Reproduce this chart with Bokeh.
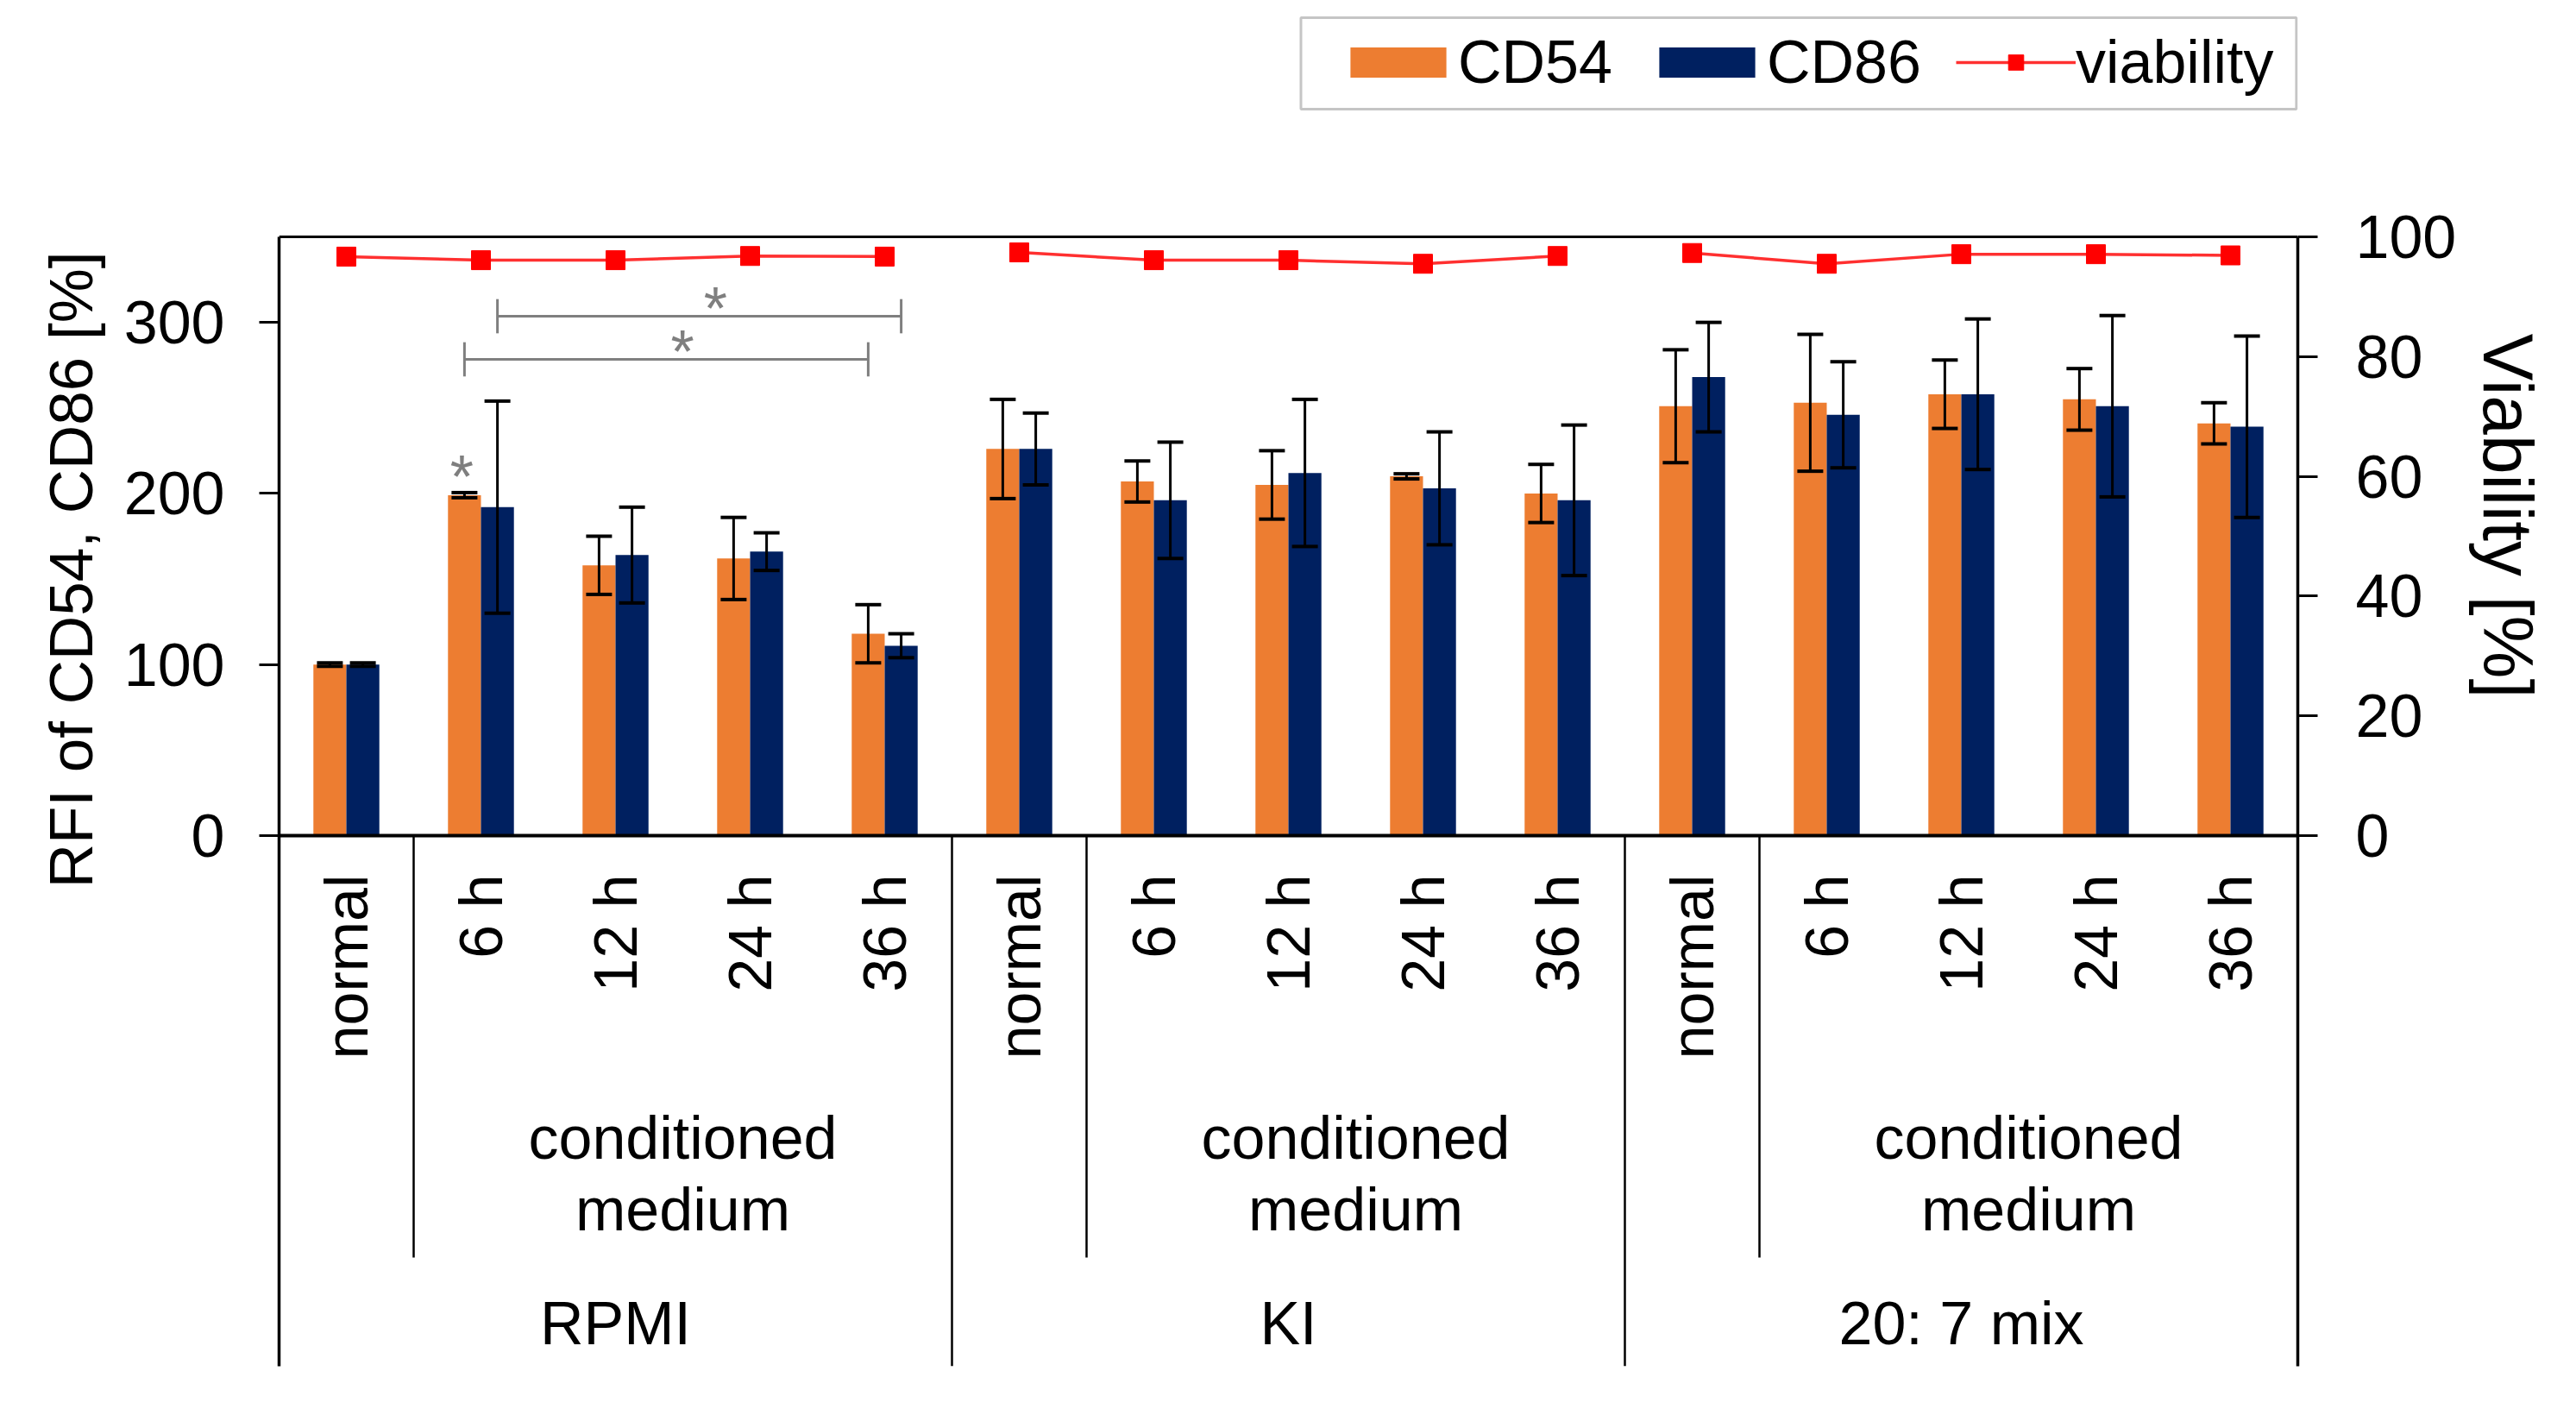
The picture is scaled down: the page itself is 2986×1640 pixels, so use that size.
import math
from bokeh.plotting import figure
from bokeh.layouts import row
from bokeh.models import (Range1d, LinearAxis, FixedTicker, ColumnDataSource, Whisker, TeeHead,
                          Span, Legend, LegendItem, BoxAnnotation)
from bokeh.core.properties import value
from bokeh.embed import file_html
from bokeh.resources import INLINE

# ---------------- data ----------------
GROUPS = ["RPMI", "KI", "20: 7 mix"]
CONDITIONS = ["normal", "6 h", "12 h", "24 h", "36 h"]
SUBGROUP_LABEL = "conditioned medium"

CD54 = [100, 199, 158, 162, 118, 226, 207, 205, 210, 200, 251, 253, 258, 255, 241]
CD54_ERR = [1, 1.5, 17, 24, 17, 29, 12, 20, 1.5, 17, 33, 40, 20, 18, 12]
CD86 = [100, 192, 164, 166, 111, 226, 196, 212, 203, 196, 268, 246, 258, 251, 239]
CD86_ERR = [1, 62, 28, 11, 7, 21, 34, 43, 33, 44, 32, 31, 44, 53, 53]
VIABILITY = [96.7, 96.1, 96.1, 96.8, 96.7, 97.4, 96.1, 96.1, 95.5, 96.8, 97.3, 95.5, 97.1, 97.1, 96.9]

LEFT_TICKS = [0, 100, 200, 300]
RIGHT_TICKS = [0, 20, 40, 60, 80, 100]
LEFT_TITLE = "RFI of CD54, CD86 [%]"
RIGHT_TITLE = "Viability [%]"

# significance brackets: (series, from index, to index, level)
BRACKETS = [("CD86", 1, 4, 303.6), ("CD54", 1, 4, 278.4)]
SINGLE_STARS = [("CD54", 1)]

# ---------------- layout (page pixel coordinates) ----------------
FONT = "Liberation Sans"
ORANGE = "#ED7D31"
NAVY = "#002060"
RED = "#FF0000"
GRAY = "#7F7F7F"

FIG_W, FIG_H = 2970, 1624
LW, RW = 135, 120                 # side strips holding the axis titles
FR_L, FR_R, FR_T, FR_B = 323, 2664, 0, 1583   # plot frame
PX_ZERO, PX_TOP = 968, 274        # pixel rows of value 0 and of the axis top
L_MAX, R_MAX = 350, 100
BASE_FIX = 30                     # alphabetic baseline correction (px)
n_grp = len(CONDITIONS)
n = len(GROUPS) * n_grp
xu = (FR_R - FR_L) / n
lu = (PX_ZERO - PX_TOP) / L_MAX
ru = (PX_ZERO - PX_TOP) / R_MAX


def dx(px):
    return (px - FR_L) / xu


def dy(py):
    return (PX_ZERO - py) / lu


y_start, y_end = dy(FR_B), dy(FR_T)
r_start, r_end = (PX_ZERO - FR_B) / ru, (PX_ZERO - FR_T) / ru

BW = 0.245

MAIN_W = FIG_W - LW - RW
p = figure(width=MAIN_W, height=FIG_H, x_range=Range1d(0, n), y_range=Range1d(y_start, y_end),
           output_backend="svg", toolbar_location=None, x_axis_location=None,
           min_border_left=FR_L - LW, min_border_right=(FIG_W - RW) - FR_R,
           min_border_top=FR_T, min_border_bottom=FIG_H - FR_B)
p.extra_y_ranges = {"via": Range1d(r_start, r_end)}
p.outline_line_color = None
p.grid.visible = False
p.background_fill_color = "white"
p.border_fill_color = "white"


def style_axis(ax, standoff):
    ax.axis_line_width = 3.5
    ax.axis_line_color = "black"
    ax.major_tick_out = 23
    ax.major_tick_in = 0
    ax.major_tick_line_width = 3
    ax.major_tick_line_color = "black"
    ax.minor_tick_line_color = None
    ax.major_label_text_font = FONT
    ax.major_label_text_font_size = "70px"
    ax.major_label_text_color = "black"
    ax.major_label_standoff = standoff


ly = p.yaxis[0]
ly.ticker = FixedTicker(ticks=LEFT_TICKS)
ly.bounds = (y_start, L_MAX)
style_axis(ly, 40)

ry = LinearAxis(y_range_name="via", ticker=FixedTicker(ticks=RIGHT_TICKS), bounds=(r_start, R_MAX))
style_axis(ry, 44)
p.add_layout(ry, "right")

# frame top border and baseline
p.segment(x0=[0], y0=[L_MAX], x1=[n], y1=[L_MAX], line_width=3, line_color="black")
p.add_layout(Span(location=0, dimension="width", line_color="black", line_width=4))

# category table lines
gx = [g * n_grp for g in range(1, len(GROUPS))]
p.segment(x0=gx, y0=[0] * len(gx), x1=gx, y1=[y_start] * len(gx), line_width=2.5, line_color="black")
sx = [g * n_grp + 1 for g in range(len(GROUPS))]
p.segment(x0=sx, y0=[0] * len(sx), x1=sx, y1=[dy(1457)] * len(sx), line_width=2.5, line_color="black")

# bars
idx = list(range(n))
x54 = [i + 0.5 - BW / 2 for i in idx]
x86 = [i + 0.5 + BW / 2 for i in idx]
src54 = ColumnDataSource(dict(x=x54, top=CD54, up=[v + e for v, e in zip(CD54, CD54_ERR)],
                              lo=[v - e for v, e in zip(CD54, CD54_ERR)]))
src86 = ColumnDataSource(dict(x=x86, top=CD86, up=[v + e for v, e in zip(CD86, CD86_ERR)],
                              lo=[v - e for v, e in zip(CD86, CD86_ERR)]))
b54 = p.vbar(x="x", top="top", bottom=0, width=BW, source=src54, fill_color=ORANGE, line_color=None)
b86 = p.vbar(x="x", top="top", bottom=0, width=BW, source=src86, fill_color=NAVY, line_color=None)

for src in (src54, src86):
    w = Whisker(source=src, base="x", upper="up", lower="lo", dimension="height", level="annotation",
                line_width=3, line_color="black",
                upper_head=TeeHead(size=30, line_width=4, line_color="black"),
                lower_head=TeeHead(size=30, line_width=4, line_color="black"))
    p.add_layout(w)

# viability lines, one per medium group
via_line = via_pts = None
for g in range(len(GROUPS)):
    xs = [i + 0.5 for i in idx[g * n_grp:(g + 1) * n_grp]]
    vs = VIABILITY[g * n_grp:(g + 1) * n_grp]
    lr = p.line(xs, vs, y_range_name="via", line_color="#FF3030", line_width=3.5)
    sr = p.scatter(xs, vs, y_range_name="via", marker="square", size=22, fill_color=RED, line_color=RED)
    if via_line is None:
        via_line, via_pts = lr, sr

# significance brackets
xs_of = {"CD54": x54, "CD86": x86}
top_of = {"CD54": (CD54, CD54_ERR), "CD86": (CD86, CD86_ERR)}
bx0, bx1, by, star_x, star_y = [], [], [], [], []
for ser, a, b, lev in BRACKETS:
    x0, x1 = xs_of[ser][a], xs_of[ser][b]
    bx0.append(x0); bx1.append(x1); by.append(lev)
    star_x.append((x0 + x1) / 2 + 0.12)
    star_y.append(lev + 4.5)
p.segment(x0=bx0, y0=by, x1=bx1, y1=by, line_color=GRAY, line_width=3)
p.segment(x0=bx0 + bx1, y0=[v - 10 for v in by] * 2, x1=bx0 + bx1, y1=[v + 10 for v in by] * 2,
          line_color=GRAY, line_width=3)
for ser, i in SINGLE_STARS:
    vals, errs = top_of[ser]
    star_x.append(xs_of[ser][i] - 0.02)
    star_y.append(vals[i] + errs[i] + 9)
p.text(x=star_x, y=star_y, text=["*"] * len(star_x), text_color=GRAY, text_font=value(FONT),
       text_font_size="70px", text_align="center", text_baseline="alphabetic")

# category labels
p.text(x=[i + 0.5 for i in idx], y=[dy(1013)] * n, text=CONDITIONS * len(GROUPS),
       angle=math.pi / 2, text_align="right", text_baseline="middle",
       text_font=value(FONT), text_font_size="70px", text_color="black")
words = SUBGROUP_LABEL.split(" ")
for wd, py in zip(words, [1348, 1431]):
    p.text(x=[g * n_grp + (1 + n_grp) / 2 for g in range(len(GROUPS))],
           y=[dy(py - BASE_FIX)] * len(GROUPS),
           text=[wd] * len(GROUPS), text_align="center", text_baseline="alphabetic",
           text_font=value(FONT), text_font_size="70px", text_color="black")
p.text(x=[g * n_grp + n_grp / 2 for g in range(len(GROUPS))], y=[dy(1563 - BASE_FIX)] * len(GROUPS),
       text=GROUPS, text_align="center", text_baseline="alphabetic",
       text_font=value(FONT), text_font_size="70px", text_color="black")

# legend
p.add_layout(BoxAnnotation(left=dx(1508), right=n - 1.6 / xu, top=dy(20), bottom=dy(126),
                           fill_color="white", fill_alpha=1, line_color="#404040", line_width=3))
legend = Legend(items=[LegendItem(label="CD54", renderers=[b54]),
                       LegendItem(label="CD86", renderers=[b86]),
                       LegendItem(label="viability", renderers=[via_line, via_pts])],
                orientation="horizontal", location=(1228, 1471), glyph_width=139, glyph_height=44,
                label_standoff=0, spacing=40, padding=10, margin=0,
                label_text_font=FONT, label_text_font_size="70px", label_text_color="black",
                border_line_color=None, background_fill_alpha=0)
p.add_layout(legend)


# side strips with the axis titles (coordinates: page pixels, y downward)
def strip(width, x_off):
    s = figure(width=width, height=FIG_H, x_range=Range1d(x_off, x_off + width),
               y_range=Range1d(FIG_H, 0), output_backend="svg", toolbar_location=None,
               x_axis_location=None, y_axis_location=None,
               min_border_left=0, min_border_right=0, min_border_top=0, min_border_bottom=0)
    s.outline_line_color = None
    s.grid.visible = False
    s.background_fill_color = "white"
    s.border_fill_color = "white"
    return s


left = strip(LW, 0)
left.text(x=[82], y=[677], text=[LEFT_TITLE], angle=math.pi / 2, text_align="center",
          text_baseline="middle", text_font=value(FONT), text_font_size="71px", text_color="black")
right = strip(RW, FIG_W - RW)
right.text(x=[2907], y=[613], text=[RIGHT_TITLE], angle=-math.pi / 2, text_align="center",
           text_baseline="middle", text_font=value(FONT), text_font_size="82px", text_color="black")

layout = row(left, p, right)
open("out.html", "w").write(file_html(layout, INLINE))
